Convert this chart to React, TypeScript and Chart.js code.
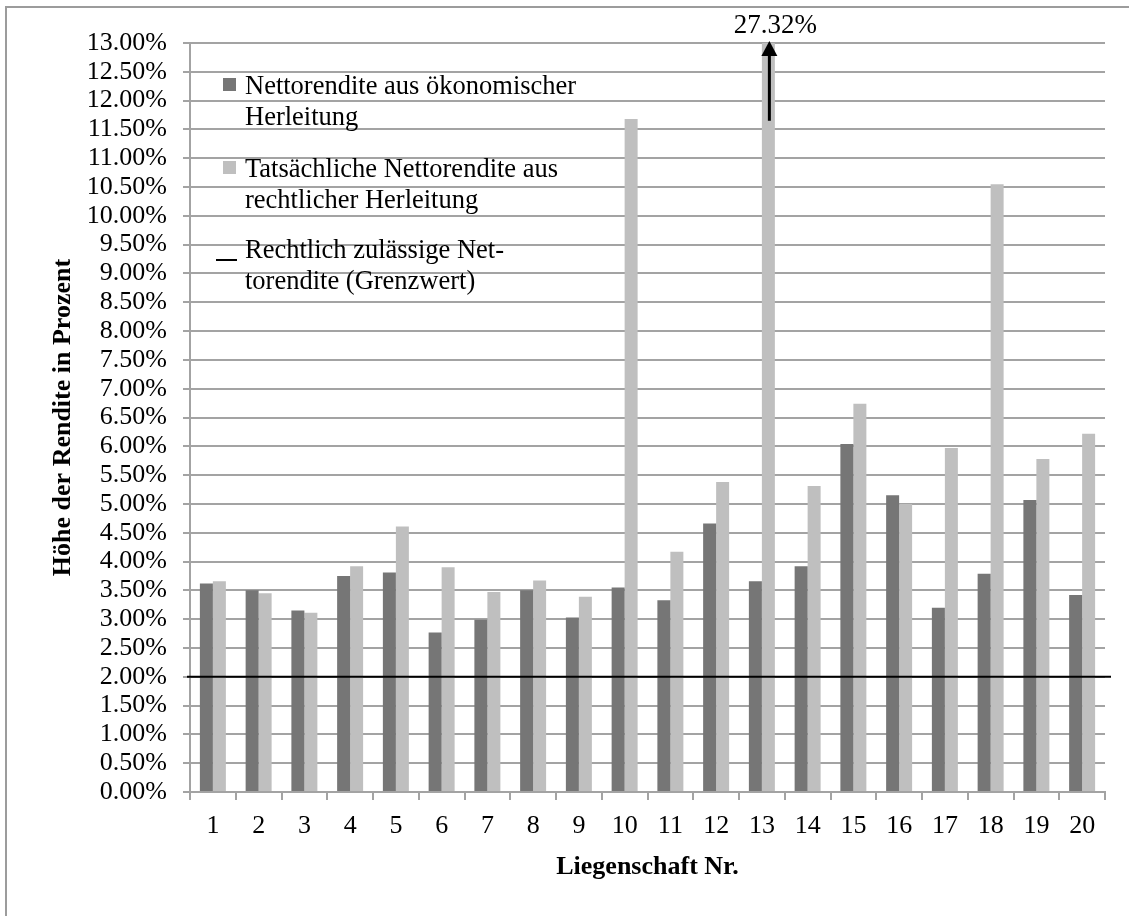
import { useEffect, useRef } from "react";
import { Chart, registerables } from "chart.js";

Chart.register(...registerables);

// Property numbers (Liegenschaft Nr.)
const categories = [
  "1", "2", "3", "4", "5", "6", "7", "8", "9", "10",
  "11", "12", "13", "14", "15", "16", "17", "18", "19", "20",
];

// Net yield from the economic derivation, in percent
const economicYield = [
  3.62, 3.5, 3.15, 3.75, 3.81, 2.77, 2.99, 3.5, 3.03, 3.55,
  3.33, 4.66, 3.66, 3.92, 6.04, 5.15, 3.2, 3.79, 5.07, 3.42,
];

// Actual net yield from the legal derivation, in percent
const actualYield = [
  3.66, 3.45, 3.11, 3.92, 4.61, 3.9, 3.47, 3.67, 3.39, 11.68,
  4.17, 5.38, 27.32, 5.31, 6.74, 5.0, 5.97, 10.55, 5.78, 6.22,
];

// Legally permitted net yield (limit), in percent
const limitYield = 2.0;

// Value axis range
const yMin = 0;
const yMax = 13;
const yStep = 0.5;

// Where the arrow for off-scale bars starts, in percent
const arrowStartValue = 11.65;

const seriesLabels = [
  "Nettorendite aus ökonomischer Herleitung",
  "Tatsächliche Nettorendite aus rechtlicher Herleitung",
  "Rechtlich zulässige Nettorendite (Grenzwert)",
];

const legendLines = [
  ["Nettorendite aus ökonomischer", "Herleitung"],
  ["Tatsächliche Nettorendite aus", "rechtlicher Herleitung"],
  ["Rechtlich zulässige Net-", "torendite (Grenzwert)"],
];

const DARK = "#767676";
const LIGHT = "#bfbfbf";
const GRID = "#a3a3a3";
const FONT = "'Liberation Serif', 'Times New Roman', serif";

const decorations = {
  id: "decorations",
  beforeDraw(chart: any) {
    const ctx = chart.ctx;
    ctx.save();
    ctx.strokeStyle = "#9c9c9c";
    ctx.lineWidth = 2;
    ctx.beginPath();
    ctx.moveTo(6, chart.height);
    ctx.lineTo(6, 7);
    ctx.lineTo(chart.width, 7);
    ctx.stroke();
    ctx.restore();
  },
  afterDatasetsDraw(chart: any) {
    const ctx = chart.ctx;
    const area = chart.chartArea;
    const y = chart.scales.y;

    // limit line across the plot
    const ly = y.getPixelForValue(limitYield);
    ctx.save();
    ctx.strokeStyle = "#000";
    ctx.lineWidth = 2;
    ctx.beginPath();
    ctx.moveTo(area.left - 3, ly);
    ctx.lineTo(area.right + 6, ly);
    ctx.stroke();

    // off-scale bars: arrow and value label
    const meta = chart.getDatasetMeta(1);
    actualYield.forEach((v, i) => {
      if (v <= yMax) return;
      const bx = meta.data[i].x + 1;
      const y0 = y.getPixelForValue(arrowStartValue);
      const tip = area.top - 2;
      ctx.strokeStyle = "#000";
      ctx.fillStyle = "#000";
      ctx.lineWidth = 3;
      ctx.beginPath();
      ctx.moveTo(bx, y0);
      ctx.lineTo(bx, tip + 12);
      ctx.stroke();
      ctx.beginPath();
      ctx.moveTo(bx, tip);
      ctx.lineTo(bx - 8, tip + 15);
      ctx.lineTo(bx + 8, tip + 15);
      ctx.closePath();
      ctx.fill();
      ctx.font = `27px ${FONT}`;
      ctx.textAlign = "center";
      ctx.textBaseline = "alphabetic";
      ctx.fillText(`${v.toFixed(2)}%`, bx + 6, area.top - 10);
    });

    // legend
    ctx.font = `26.5px ${FONT}`;
    ctx.textAlign = "left";
    ctx.textBaseline = "alphabetic";
    ctx.fillStyle = "#000";
    const textX = 245;
    const baselines = [[94, 125], [177, 208], [258, 289]];
    legendLines.forEach((lines, k) => {
      const [b1, b2] = baselines[k];
      if (k === 0 || k === 1) {
        ctx.fillStyle = k === 0 ? DARK : LIGHT;
        ctx.fillRect(223, b1 - 16, 13, 13);
      } else {
        ctx.fillStyle = "#000";
        ctx.fillRect(216, b1 + 1, 21, 2);
      }
      ctx.fillStyle = "#000";
      ctx.fillText(lines[0], textX, b1);
      ctx.fillText(lines[1], textX, b2);
    });
    ctx.restore();
  },
};

export default function App() {
  const canvasRef = useRef<HTMLCanvasElement | null>(null);

  useEffect(() => {
    const canvas = canvasRef.current;
    if (!canvas) return;
    const chart = new Chart(canvas, {
      type: "bar",
      data: {
        labels: categories,
        datasets: [
          {
            label: seriesLabels[0],
            data: economicYield,
            backgroundColor: DARK,
            categoryPercentage: 0.568,
            barPercentage: 1,
          },
          {
            label: seriesLabels[1],
            data: actualYield,
            backgroundColor: LIGHT,
            categoryPercentage: 0.568,
            barPercentage: 1,
          },
        ],
      },
      options: {
        animation: false,
        responsive: false,
        maintainAspectRatio: false,
        layout: { padding: { top: 43, right: 24, bottom: 0, left: 0 } },
        plugins: {
          legend: { display: false },
          tooltip: { enabled: false },
        },
        scales: {
          x: {
            afterFit: (s: any) => {
              s.height = 124;
            },
            grid: {
              offset: true,
              drawOnChartArea: false,
              drawTicks: true,
              tickLength: 8,
              color: GRID,
              lineWidth: 2,
            },
            border: { display: true, color: GRID, width: 2 },
            ticks: {
              color: "#000",
              font: { family: FONT, size: 26 },
              padding: 11,
              maxRotation: 0,
              autoSkip: false,
            },
            title: {
              display: true,
              text: "Liegenschaft Nr.",
              color: "#000",
              font: { family: FONT, size: 26, weight: "bold" },
              padding: { top: 0, bottom: 33 },
            },
          },
          y: {
            min: yMin,
            max: yMax,
            afterFit: (s: any) => {
              s.width = 190;
            },
            grid: {
              color: GRID,
              lineWidth: 2,
              drawTicks: true,
              tickLength: 7,
            },
            border: { display: true, color: GRID, width: 2 },
            ticks: {
              stepSize: yStep,
              color: "#000",
              font: { family: FONT, size: 26 },
              padding: 16,
              autoSkip: false,
              callback: (v: any) => `${Number(v).toFixed(2)}%`,
            },
            title: {
              display: true,
              text: "Höhe der Rendite in Prozent",
              color: "#000",
              font: { family: FONT, size: 26, weight: "bold" },
              padding: { top: 48, bottom: 0 },
            },
          },
        },
      },
      plugins: [decorations],
    });
    return () => chart.destroy();
  }, []);

  return (
    <div
      style={{
        position: "fixed",
        left: 0,
        top: 0,
        width: 1129,
        height: 916,
        background: "#fff",
      }}
    >
      <canvas
        ref={canvasRef}
        width={1129}
        height={916}
        style={{ display: "block", width: 1129, height: 916 }}
      />
    </div>
  );
}
